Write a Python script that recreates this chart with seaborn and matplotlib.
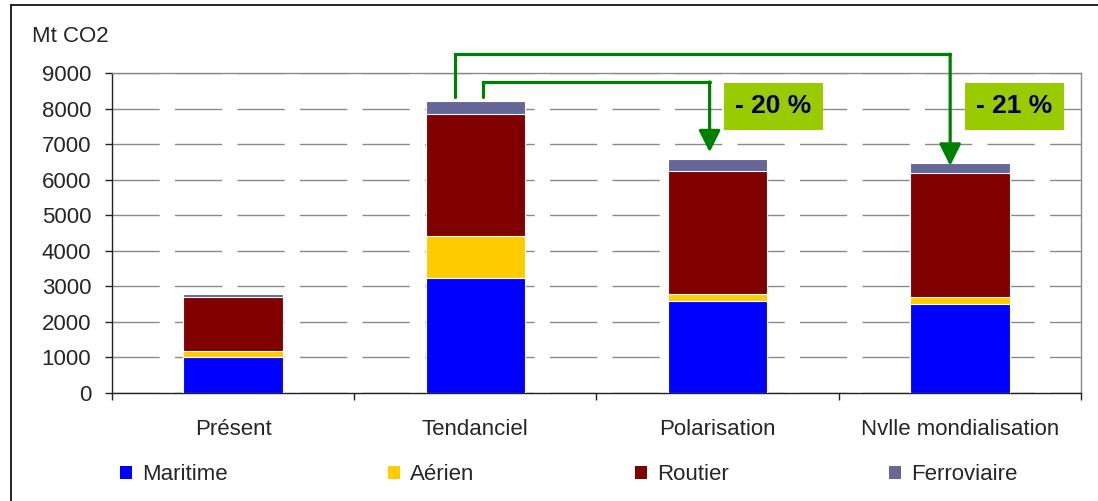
import numpy as np
import pandas as pd
import matplotlib.pyplot as plt
import seaborn as sns
from matplotlib.lines import Line2D
from matplotlib.patches import Patch

categories = ['Présent', 'Tendanciel', 'Polarisation', 'Nvlle mondialisation']
maritime = [1000, 3240, 2590, 2490]
aerien = [170, 1180, 200, 200]
routier = [1520, 3420, 3440, 3490]
ferroviaire = [105, 365, 360, 300]
modes = ['Maritime', 'Aérien', 'Routier', 'Ferroviaire']
colors = ['#0000FF', '#FFCC00', '#800000', '#666699']
reductions = ['- 20 %', '- 21 %']

sns.set_style('white')
plt.rcParams['font.family'] = ['Liberation Sans', 'DejaVu Sans']

df = pd.DataFrame({'cat': categories, 'Maritime': maritime, 'Aérien': aerien,
                   'Routier': routier, 'Ferroviaire': ferroviaire})
cum = df[modes].cumsum(axis=1)
cum['cat'] = df['cat']

fig = plt.figure(figsize=(10.98, 5.01), dpi=100)
ax = fig.add_axes([0.102, 0.2156, 0.8825, 0.6387])

# stacked bars drawn back to front from cumulative totals
for mode, col in reversed(list(zip(modes, colors))):
    sns.barplot(data=cum, x='cat', y=mode, order=categories, color=col,
                saturation=1, width=0.41, errorbar=None, edgecolor='white',
                linewidth=0.8, ax=ax, zorder=3)

ax.set_ylim(0, 9000)
ax.set_xlim(-0.5, 3.5)
ax.set_yticks(np.arange(0, 9001, 1000))
ax.yaxis.grid(True, linestyle=(0, (34, 11)), color='#8a8a8a', lw=1, zorder=0)
ax.set_axisbelow(True)
ax.set_xlabel('')
ax.set_ylabel('')
for s in ['top', 'right']:
    ax.spines[s].set_color('#8a8a8a')
    ax.spines[s].set_linewidth(1)
for s in ['left', 'bottom']:
    ax.spines[s].set_color('#222222')
    ax.spines[s].set_linewidth(1)

ax.tick_params(axis='y', left=True, length=5, width=1, pad=10, labelsize=16, color='#222222')
ax.tick_params(axis='x', which='major', length=0, pad=19, labelsize=16)
ax.set_xticks(np.arange(-0.5, 3.6, 1), minor=True)
ax.tick_params(axis='x', which='minor', bottom=True, length=5, width=1, color='#222222')

fig.text(0.029, 1 - 37 / 501, 'Mt CO2', fontsize=16, va='center', ha='left')

# green arrows
green = '#008000'
totals = cum['Ferroviaire'].tolist()
arrows = [(0.917, 9530, 2.96, totals[3] - 90), (1.03, 8750, 1.967, totals[2] + 180)]
for x0, ytop, x1, yend in arrows:
    ax.plot([x0, x0, x1], [totals[1] + 120, ytop, ytop], color=green, lw=2.3,
            clip_on=False, zorder=5, solid_joinstyle='miter')
    ax.annotate('', xy=(x1, yend), xytext=(x1, ytop), annotation_clip=False,
                arrowprops=dict(arrowstyle='-|>,head_length=0.6,head_width=0.3',
                                color=green, lw=2.3, mutation_scale=22,
                                shrinkA=0, shrinkB=0), zorder=5)

for xc, txt in zip([2.23, 3.225], reductions):
    ax.text(xc, 8060, txt, ha='center', va='center', fontsize=19, fontweight='bold',
            color='#000055', zorder=6,
            bbox=dict(boxstyle='square,pad=0.42', fc='#99CC00', ec='none'))

handles = [Patch(facecolor=c, edgecolor='none') for c in colors]
fig.legend(handles, modes, loc='center', bbox_to_anchor=(0.518, 1 - 475 / 501),
           ncol=4, frameon=False, fontsize=16, handlelength=0.55, handleheight=0.55,
           handletextpad=0.45, columnspacing=7.2)

# outer frame (left and top edges)
fig.add_artist(Line2D([11 / 1098, 11 / 1098], [0, 1 - 5 / 501], color='black',
                      lw=1.2, transform=fig.transFigure))
fig.add_artist(Line2D([11 / 1098, 1], [1 - 5 / 501, 1 - 5 / 501], color='black',
                      lw=1.2, transform=fig.transFigure))

fig.savefig('out.png', dpi=100)
